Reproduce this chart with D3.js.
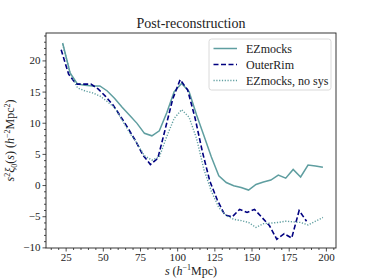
<!DOCTYPE html>
<html>
  <head>
    <meta charset="UTF-8">
    <title>Post-reconstruction</title>
    <script src="https://d3js.org/d3.v7.min.js"></script>
    <style>
      body { margin: 0; background: #fff; }
      text { font-family: "Liberation Serif", "DejaVu Serif", serif; fill: #222; }
    </style>
  </head>
  <body>
    <svg id="chart" width="374" height="280"></svg>
    <script>
      // bin centres (h^-1 Mpc)
      const sEz = [23, 28, 33, 38, 43, 48, 53, 58, 63, 68, 73, 78, 83, 88, 93, 98, 103, 108,
                   113, 118, 123, 128, 133, 138, 143, 148, 153, 158, 163, 168, 173, 178, 183, 188, 193, 198];
      const sOr = [22, 27, 32, 37, 42, 47, 52, 57, 62, 67, 72, 77, 82, 87, 92, 97, 102,
                   107, 112, 117, 122, 127, 132, 137, 142, 147, 152, 157, 162, 167, 172, 177, 182, 187];

      // s^2 xi_0(s) values
      const ezmocks = [22.8, 18.0, 16.2, 16.0, 15.9, 15.9, 15.1, 13.9, 12.5, 11.2, 9.9, 8.3, 7.9, 8.7,
                       11.6, 15.0, 16.3, 15.0, 11.3, 7.9, 4.5, 1.5, 0.4, -0.1, -0.4, -0.8, 0.1, 0.5,
                       0.8, 1.6, 1.1, 2.5, 1.3, 3.2, 3.05, 2.85];
      const outerRim = [21.7, 17.8, 16.2, 16.2, 16.2, 15.4, 14.2, 12.8, 11.0, 9.1, 7.1, 4.8, 3.3, 4.3,
                        9.0, 13.8, 16.9, 15.3, 10.8, 5.3, 0.6, -2.4, -4.8, -5.1, -3.9, -4.4, -3.9,
                        -5.2, -6.5, -8.7, -7.8, -8.5, -4.1, -5.8];
      const ezNoSys = [22.6, 18.0, 15.6, 15.1, 14.8, 14.3, 13.4, 12.4, 10.4, 8.4, 6.7, 4.7, 4.0, 4.5,
                       7.8, 10.7, 12.1, 10.9, 7.5, 2.5, -1.0, -3.6, -4.9, -5.5, -5.7, -6.0, -6.8,
                       -6.2, -6.1, -6.0, -5.8, -5.9, -6.0, -6.4, -5.8, -5.2];

      const xTicks = [25, 50, 75, 100, 125, 150, 175, 200];
      const yTicks = [-10, -5, 0, 5, 10, 15, 20];
      const labels = ["EZmocks", "OuterRim", "EZmocks, no sys"];

      const margin = {left: 46, right: 38, top: 33, bottom: 32};
      const W = 374, H = 280;
      const svg = d3.select("#chart");

      const x = d3.scaleLinear().domain([11.8, 206.8]).range([margin.left, W - margin.right]);
      const y = d3.scaleLinear().domain([-10.1, 24.4]).range([H - margin.bottom, margin.top]);

      const series = [
        {name: labels[0], s: sEz, v: ezmocks, color: "#5f9ea0", dash: null, width: 1.5},
        {name: labels[1], s: sOr, v: outerRim, color: "#000080", dash: "5,2.5", width: 1.6},
        {name: labels[2], s: sEz, v: ezNoSys, color: "#5f9ea0", dash: "1.2,1.6", width: 1.4}
      ];

      const line = d3.line().x(d => x(d[0])).y(d => y(d[1]));

      svg.append("g").selectAll("path")
        .data(series)
        .join("path")
        .attr("d", d => line(d.s.map((s, i) => [s, d.v[i]])))
        .attr("fill", "none")
        .attr("stroke", d => d.color)
        .attr("stroke-width", d => d.width)
        .attr("stroke-dasharray", d => d.dash);

      // axes, major + minor ticks
      svg.append("g").attr("transform", `translate(0,${H - margin.bottom})`)
        .call(d3.axisBottom(x).tickValues(xTicks).tickSize(3.5).tickPadding(1.5));
      svg.append("g").attr("transform", `translate(0,${H - margin.bottom})`)
        .call(d3.axisBottom(x).tickValues(d3.range(15, 206, 5).filter(v => v % 25)).tickSize(2).tickFormat(""));
      svg.append("g").attr("transform", `translate(${margin.left},0)`)
        .call(d3.axisLeft(y).tickValues(yTicks).tickSize(3.5).tickPadding(2)
          .tickFormat(d => d < 0 ? "\u2212" + Math.abs(d) : d));
      svg.append("g").attr("transform", `translate(${margin.left},0)`)
        .call(d3.axisLeft(y).tickValues(d3.range(-10, 25, 1).filter(v => v % 5)).tickSize(2).tickFormat(""));

      svg.selectAll(".tick text").attr("font-family", "Liberation Serif").attr("font-size", 11).attr("fill", "#222");
      svg.selectAll(".tick line").attr("stroke", "#222").attr("stroke-width", 0.8);
      svg.selectAll(".domain").remove();

      // frame
      svg.append("rect")
        .attr("x", margin.left).attr("y", margin.top)
        .attr("width", W - margin.left - margin.right)
        .attr("height", H - margin.top - margin.bottom)
        .attr("fill", "none").attr("stroke", "#222").attr("stroke-width", 0.9);

      // title
      svg.append("text")
        .attr("x", (margin.left + W - margin.right) / 2).attr("y", 28)
        .attr("text-anchor", "middle").attr("font-size", 14)
        .text("Post-reconstruction");

      // x label: s (h^-1 Mpc)
      const xl = svg.append("text")
        .attr("x", (margin.left + W - margin.right) / 2).attr("y", 274.5)
        .attr("text-anchor", "middle").attr("font-size", 12);
      xl.append("tspan").attr("font-style", "italic").text("s");
      xl.append("tspan").text(" (");
      xl.append("tspan").attr("font-style", "italic").text("h");
      xl.append("tspan").attr("font-size", 8).attr("dy", -4.5).text("\u22121");
      xl.append("tspan").attr("dy", 4.5).text("Mpc)");

      // y label: s^2 xi_0(s) (h^-2 Mpc^2)
      const yl = svg.append("text")
        .attr("transform", `translate(14,${(margin.top + H - margin.bottom) / 2}) rotate(-90)`)
        .attr("text-anchor", "middle").attr("font-size", 12);
      yl.append("tspan").attr("font-style", "italic").text("s");
      yl.append("tspan").attr("font-size", 8).attr("dy", -4.5).text("2");
      yl.append("tspan").attr("font-style", "italic").attr("dy", 4.5).text("\u03be");
      yl.append("tspan").attr("font-size", 8).attr("dy", 2.5).text("0");
      yl.append("tspan").attr("dy", -2.5).text("(");
      yl.append("tspan").attr("font-style", "italic").text("s");
      yl.append("tspan").text(") (");
      yl.append("tspan").attr("font-style", "italic").text("h");
      yl.append("tspan").attr("font-size", 8).attr("dy", -4.5).text("\u22122");
      yl.append("tspan").attr("dy", 4.5).text("Mpc");
      yl.append("tspan").attr("font-size", 8).attr("dy", -4.5).text("2");
      yl.append("tspan").attr("dy", 4.5).text(")");

      // legend
      const lg = svg.append("g").attr("transform", "translate(209,39)");
      lg.append("rect").attr("width", 122).attr("height", 51).attr("rx", 2.5)
        .attr("fill", "#fff").attr("fill-opacity", 0.8).attr("stroke", "#d6d6d6").attr("stroke-width", 0.9);
      const item = lg.selectAll("g.item").data(series).join("g")
        .attr("class", "item")
        .attr("transform", (d, i) => `translate(0,${9.5 + i * 16})`);
      item.append("line").attr("x1", 4.5).attr("x2", 28).attr("y1", 0).attr("y2", 0)
        .attr("stroke", d => d.color).attr("stroke-width", d => d.width)
        .attr("stroke-dasharray", d => d.dash);
      item.append("text").attr("x", 37).attr("y", 4).attr("font-size", 12).text(d => d.name);
    </script>
  </body>
</html>
